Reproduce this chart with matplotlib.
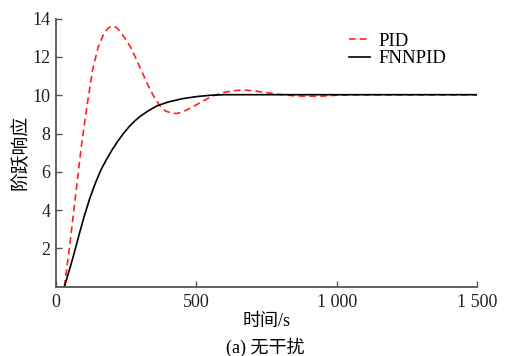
import matplotlib
matplotlib.use("Agg")
import matplotlib.pyplot as plt

plt.rcParams['font.family'] = ['Liberation Serif', 'Noto Sans CJK SC']
plt.rcParams['axes.unicode_minus'] = False

t_pid = [30, 50, 70, 90, 110, 130, 150, 170, 185, 200, 215, 230, 250, 270, 290,
         310, 330, 350, 370, 390, 410, 430, 450, 470, 500, 530, 560, 600, 640,
         670, 700, 750, 800, 850, 900, 950, 1000, 1050, 1100, 1500]
y_pid = [0, 2.3, 4.8, 7.3, 9.4, 11.3, 12.5, 13.2, 13.5, 13.62, 13.55, 13.3,
         12.9, 12.4, 11.75, 11.1, 10.45, 9.9, 9.45, 9.18, 9.07, 9.05, 9.12,
         9.27, 9.5, 9.75, 9.97, 10.15, 10.25, 10.27, 10.24, 10.14, 10.04, 9.97,
         9.95, 9.96, 10.0, 10.02, 10.02, 10.02]

t_fnn = [30, 45, 60, 80, 100, 120, 140, 160, 180, 200, 220, 240, 260, 280, 300,
         330, 360, 400, 450, 500, 550, 600, 700, 1500]
y_fnn = [0, 0.75, 1.5, 2.6, 3.65, 4.6, 5.4, 6.1, 6.65, 7.15, 7.6, 8.0, 8.35,
         8.65, 8.9, 9.2, 9.45, 9.65, 9.82, 9.93, 10.0, 10.03, 10.03, 10.03]

xticks = [0, 500, 1000, 1500]
xticklabels = ['0', '500', '1 000', '1 500']
yticks = [2, 4, 6, 8, 10, 12, 14]

fig = plt.figure(figsize=(5.1, 3.56), dpi=100)
ax = fig.add_axes([0.1098, 0.1946, 0.8255, 0.7529])

ax.plot(t_pid, y_pid, color='#ff2020', linestyle=(0, (4, 2.5)), linewidth=1.2, label='PID')
ax.plot(t_fnn, y_fnn, color='black', linewidth=1.2, label='FNNPID')

ax.set_xlim(0, 1500)
ax.set_ylim(0, 14)
ax.set_xticks(xticks)
ax.set_xticklabels(xticklabels)
ax.set_yticks(yticks)

for s in ['top', 'right']:
    ax.spines[s].set_visible(False)
for s in ['left', 'bottom']:
    ax.spines[s].set_color('#555555')
    ax.spines[s].set_linewidth(1.3)

ax.tick_params(direction='in', length=4, width=1.0, colors='#555555',
               labelcolor='#222222', labelsize=13)
ax.tick_params(axis='x', pad=5)
ax.tick_params(axis='y', pad=4)

ax.set_ylabel('阶跃响应', fontsize=13.5, labelpad=2)
ax.set_xlabel('时间/s', fontsize=13, labelpad=2)

leg = ax.legend(loc='upper right', bbox_to_anchor=(0.945, 0.975), frameon=False,
                fontsize=13.5, handlelength=1.1, handletextpad=0.45,
                labelspacing=0.0, borderaxespad=0)

fig.text(0.52, 0.025, '(a) 无干扰', ha='center', va='center', fontsize=13)

fig.savefig('out.png', dpi=100)
